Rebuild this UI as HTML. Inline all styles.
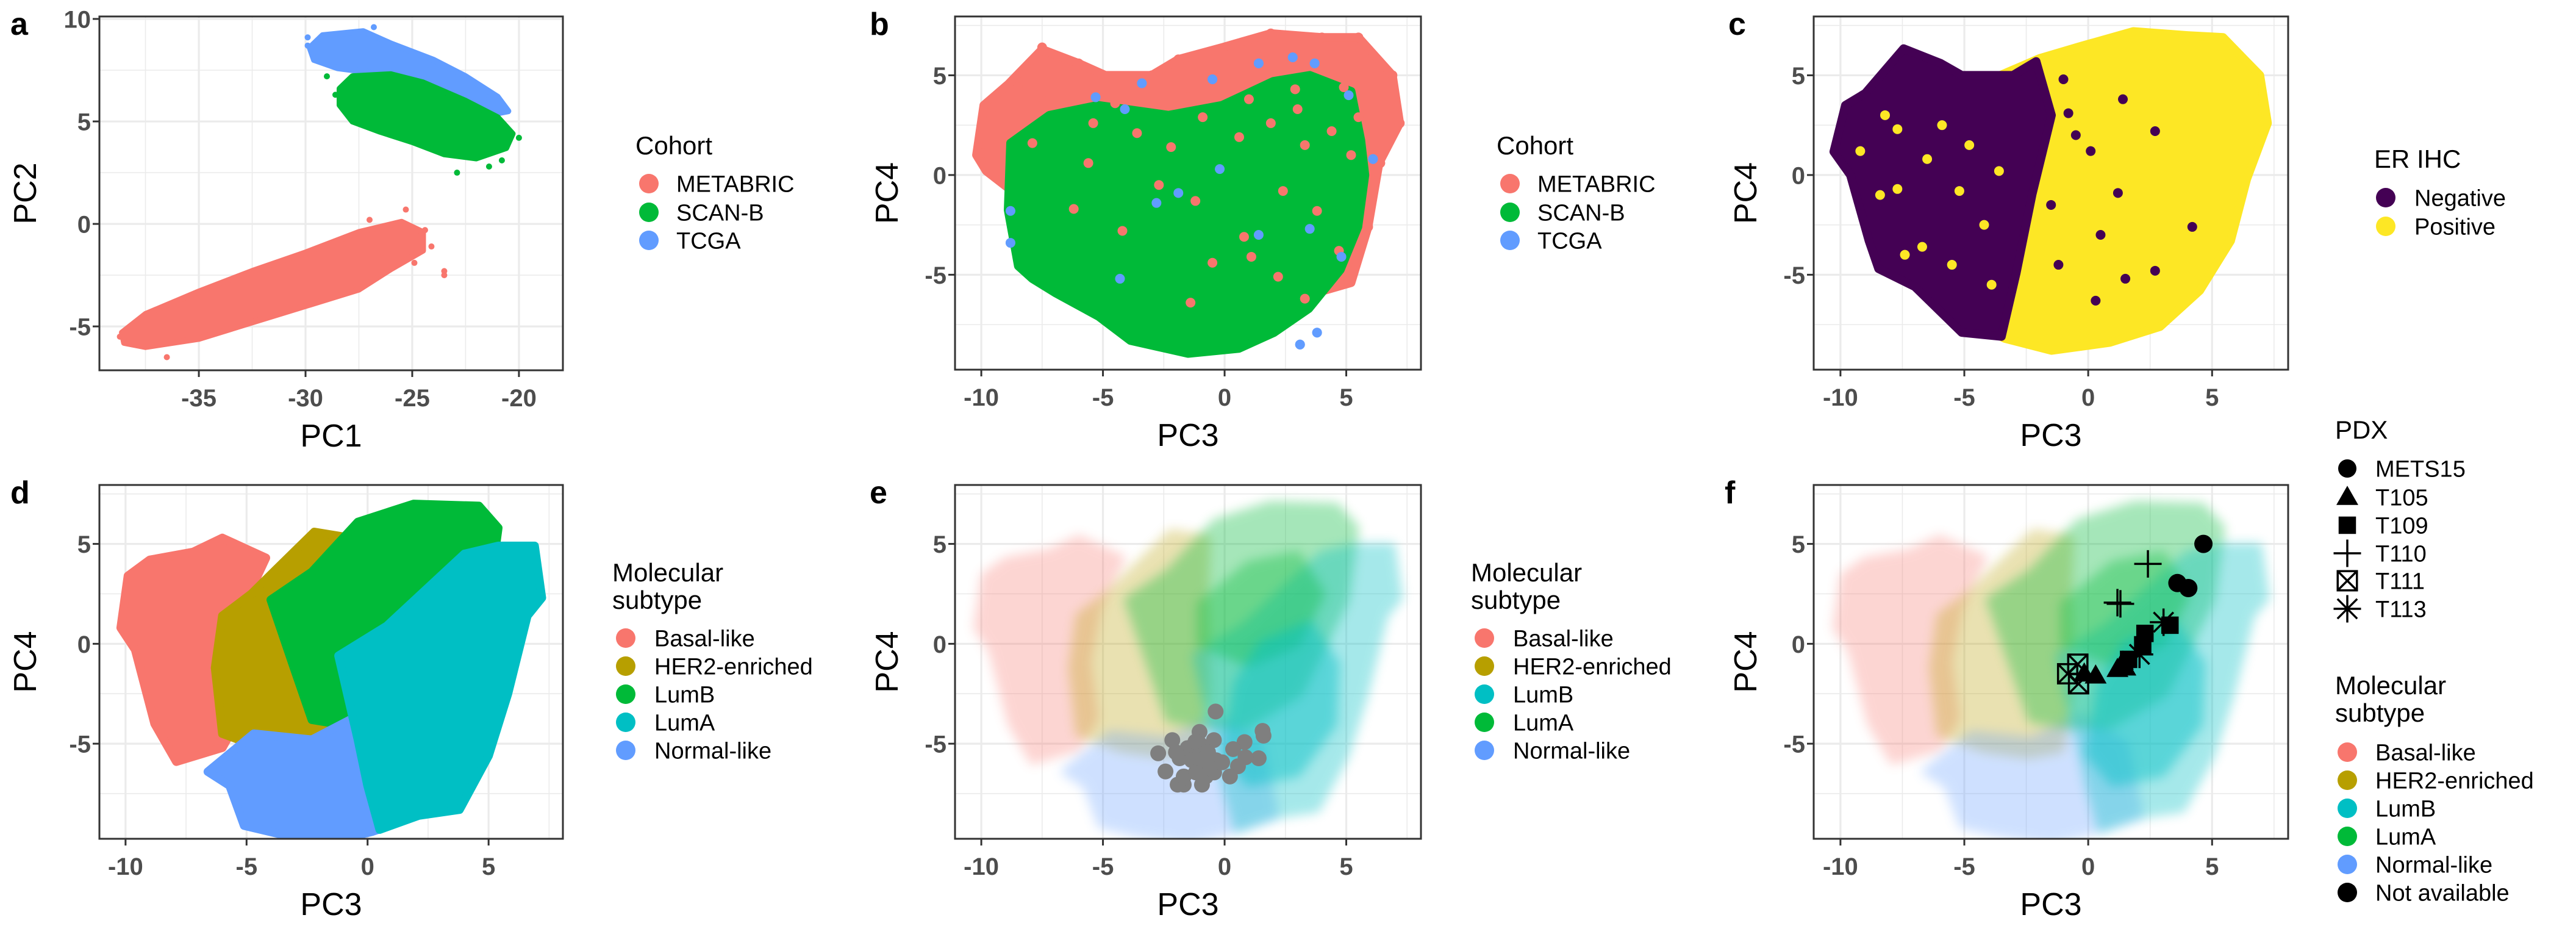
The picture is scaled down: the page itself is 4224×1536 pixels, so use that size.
<!DOCTYPE html>
<html><head><meta charset="utf-8"><style>
html,body{margin:0;padding:0;background:#fff;}
svg{display:block;font-family:"Liberation Sans",sans-serif;}
</style></head><body>
<svg id="fig" width="4224" height="1536" viewBox="0 0 4224 1536" xmlns="http://www.w3.org/2000/svg">
<defs><filter id="soft" x="-20%" y="-20%" width="140%" height="140%"><feGaussianBlur stdDeviation="9"/></filter></defs>
</svg>
<script>
// ---------- DATA (cloud outlines & points, data units) ----------
const metabricA=[[-38.6,-5.3],[-37.5,-4.4],[-35,-3.3],[-32.5,-2.3],[-30,-1.4],[-27.5,-0.4],[-25.5,0.1],[-24.5,-0.4],[-24.5,-1.3],[-26,-2.2],[-27.5,-3.2],[-30,-4.0],[-32.5,-4.8],[-35,-5.6],[-37.5,-6.0],[-38.5,-5.8]];
const metabricAOut=[[-38.7,-5.5],[-36.5,-6.5],[-25.3,0.7],[-24.4,-0.3],[-23.5,-2.3],[-23.5,-2.5],[-24.9,-1.9],[-24.1,-1.1],[-27,0.2],[-26.4,-1.4]];
const scanbA=[[-28.4,6.6],[-27.8,7.2],[-26,7.3],[-24.5,6.9],[-22.5,6.0],[-21,5.2],[-20.3,4.4],[-20.6,3.7],[-22,3.2],[-23.5,3.4],[-25,4.0],[-26.5,4.5],[-27.8,5.0],[-28.4,5.8]];
const scanbAOut=[[-29,7.2],[-20,4.2],[-20.8,3.1],[-22.9,2.5],[-28.6,6.3],[-21.4,2.8]];
const tcgaA=[[-29.8,8.6],[-29.2,9.2],[-27.3,9.4],[-26,8.8],[-24,8.0],[-22.5,7.2],[-21,6.2],[-20.5,5.5],[-21.5,5.3],[-23,5.8],[-25,6.8],[-27,7.4],[-28.5,7.6],[-29.6,8.0]];
const tcgaAOut=[[-29.9,9.1],[-29.9,8.7],[-21,5.9],[-21.4,6.1],[-26.8,9.6]];

const redB=[[-10.2,1.0],[-9.9,3.5],[-8.9,4.55],[-7.5,6.3],[-6.0,5.6],[-4.9,5.0],[-3.0,5.0],[-1.9,5.8],[-0.1,6.4],[1.9,7.1],[4.0,6.9],[5.5,6.9],[6.9,5.0],[7.2,2.6],[6.35,0.6],[5.9,-2.6],[5.2,-5.4],[3.5,-6],[0,-4],[-4,-3],[-8,-1.5],[-9.8,0.2]];
const greenB=[[-8.8,1.6],[-7.2,3.0],[-5.2,3.5],[-2.3,3.0],[-0.1,3.5],[2.0,4.7],[3.5,5.0],[5.2,4.2],[5.6,1.75],[5.77,0],[5.48,-2.6],[4.76,-4.75],[3.46,-6.7],[2.03,-7.9],[0.59,-8.7],[-1.5,-8.95],[-3.87,-8.3],[-5.17,-7.1],[-6.97,-5.9],[-7.9,-5.2],[-8.48,-4.56],[-8.9,-1.75]];
const redBDots=[[-7.5,6.4],[-6,5.6],[-4.8,4.9],[-3,5],[-1.9,5.8],[-0.2,6.3],[1.9,7.1],[4,6.9],[5.5,6.9],[6.9,5],[7.2,2.6],[6.4,0.6],[5.9,-2.6],[-9.9,1.1],[-9.5,3.4],[-8.5,4.4],[-7.4,3.7],[-5.4,2.6],[-3.6,2.1],[-2.2,1.4],[-0.9,2.9],[0.6,1.9],[1.9,2.6],[3.3,1.5],[4.4,2.2],[5.2,1.0],[-6.2,-1.7],[-4.2,-2.8],[-2.7,-0.5],[-1.2,-1.3],[0.8,-3.1],[2.4,-0.8],[3.8,-1.8],[4.7,-3.8],[3.3,-6.2],[1.1,-4.1],[-1.4,-6.4],[-0.5,-4.4],[2.2,-5.1],[-5.6,0.6],[-7.9,1.6],[-3.1,3.7],[0.2,4.6],[2.9,4.3],[4.9,4.4],[-1.5,3.9],[3.0,3.3],[1.0,3.8],[-4.5,3.6],[5.5,2.9]];
const blueBDots=[[-8.8,-1.8],[-8.8,-3.4],[-5.3,3.9],[-4.1,3.3],[-3.4,4.6],[-0.5,4.8],[1.4,5.6],[2.8,5.9],[3.7,5.6],[5.1,4.0],[6.1,0.8],[3.1,-8.5],[3.8,-7.9],[-4.3,-5.2],[-1.9,-0.9],[-0.2,0.3],[1.4,-3],[3.5,-2.7],[4.8,-4.1],[-2.8,-1.4],[-6.3,2.1],[-7.8,-1.0],[0.6,-6.9],[2.9,-3.9],[-1.1,-2.5],[2.1,1.2],[4.2,0.1],[-3.6,0.9]];

const yellowC=[[-4.3,4.6],[-1.96,5.85],[-0.38,6.43],[1.82,7.2],[4.0,7.0],[5.44,6.9],[6.93,5.0],[7.24,2.6],[6.4,-0.2],[5.75,-3.3],[4.5,-5.8],[2.9,-7.6],[0.87,-8.4],[-1.48,-8.8],[-3.36,-8.2],[-5.1,-7.1],[-6.2,-5.1],[-5.4,-1.0],[-4.6,2.9]];
const purpleC=[[-10.27,1.17],[-9.8,3.5],[-9.0,4.1],[-7.45,6.34],[-5.95,5.6],[-5.1,5.0],[-3.04,5.0],[-2.1,5.7],[-1.48,3.0],[-2.26,-0.97],[-2.9,-4.9],[-3.5,-8.1],[-5.1,-7.9],[-7.0,-5.6],[-8.46,-4.7],[-8.85,-3.3],[-9.6,0.0]];
const yellowCDots=[[-7.7,2.3],[-8.4,-1],[-7.7,-0.7],[-6.7,-3.6],[-7.4,-4.0],[-9.2,1.2],[-6.5,0.8],[-5.9,2.5],[-4.8,1.5],[-4.2,-2.5],[-3.9,-5.5],[-5.5,-4.5],[-8.2,3.0],[-3.6,0.2],[-5.2,-0.8]];
const purpleCDots=[[2.7,2.2],[2.7,-4.8],[0.3,-6.3],[-1.0,4.8],[-0.8,3.1],[1.2,-0.9],[-1.5,-1.5],[0.5,-3],[4.2,-2.6],[1.5,-5.2],[-0.5,2],[1.4,3.8],[-1.2,-4.5],[0.1,1.2]];

const basalReg=[[-10.2,0.8],[-9.9,3.4],[-9.0,4.2],[-7.2,4.6],[-6.0,5.3],[-5.1,4.8],[-4.2,4.3],[-5.2,1.7],[-5.6,-0.9],[-5.3,-3.7],[-6.0,-5.2],[-7.9,-5.9],[-8.8,-4.0],[-9.6,-0.3]];
const her2Reg=[[-6.0,1.4],[-4.8,2.5],[-3.8,3.7],[-2.2,5.6],[-0.7,5.3],[-0.8,1.9],[-0.7,-2.5],[-1.1,-5.3],[-2.4,-5.6],[-4.2,-5.3],[-6.0,-4.5],[-6.3,-1.2]];
const greenLumReg=[[-4.0,2.2],[-2.3,3.6],[-0.4,6.1],[1.9,7.0],[4.6,6.9],[5.4,5.8],[5.0,2.2],[3.1,-2.5],[0.9,-4.1],[-0.8,-4.1],[-2.3,-3.8],[-3.1,-1.0]];
const normalReg=[[-6.6,-6.4],[-4.7,-4.5],[-2.3,-4.8],[-0.4,-3.6],[1.5,-5.0],[2.1,-8.6],[0.2,-9.4],[-1.5,-9.9],[-3.7,-9.5],[-5.1,-9.1],[-5.7,-7.1]];
const cyanLumReg=[[-1.2,-0.6],[0.8,0.9],[4.0,4.5],[5.4,4.9],[6.9,4.9],[7.2,2.3],[6.6,1.4],[5.8,-2.5],[5.0,-5.6],[3.8,-8.3],[2.1,-8.6],[0.5,-9.3],[0.0,-7.1],[-0.4,-4.8]];
const greenCore=[[-1,2],[1,4],[3,4.5],[4,2.5],[3,0],[1,-1],[-1,0]];
const cyanCore=[[1.5,0],[3.5,1],[4.6,-1],[4.5,-4],[3,-6.5],[1,-7],[0,-5.5],[0.5,-2]];

const grayE=[[-0.37,-3.39],[-1.03,-4.41],[-2.15,-4.82],[-2.73,-5.48],[-0.44,-4.82],[1.56,-4.36],[1.6,-4.6],[0.82,-4.92],[1.4,-5.73],[0.86,-5.68],[0.35,-5.27],[0.55,-6.13],[0.22,-6.64],[-0.43,-6.44],[-0.93,-7.05],[-1.68,-7.05],[-1.93,-7.05],[-2.43,-6.39],[-1.68,-6.64],[-1.85,-5.73],[-1.52,-5.22],[-1.02,-5.02],[-1.02,-5.53],[-0.85,-6.03],[-0.68,-5.43],[-0.35,-5.83],[-1.35,-5.83],[-1.18,-6.44],[-0.1,-5.93],[-2.0,-5.43],[-0.77,-6.64],[-0.6,-6.23],[-1.2,-4.9],[-0.9,-5.8]];

const pdxX=[4.65,3.6,4.04, 0.3,-0.16,1.18,1.5,1.4, 3.3,2.29,2.2,1.63, 2.41,1.18,1.3, -0.83,-0.42,-0.39, 3.04,2.07];
const pdxY=[5.0,3.04,2.79, -1.6,-1.5,-1.27,-1.2,-0.9, 0.93,0.52,-0.05,-0.78, 4.0,2.06,2.0, -1.5,-1.02,-2.0, 1.08,-0.53];
const pdxShape=["circle","circle","circle","triangle","triangle","triangle","triangle","triangle","square","square","square","square","plus","plus","plus","boxx","boxx","boxx","star","star"];

const cohortLabels=["METABRIC","SCAN-B","TCGA"];
const cohortColors=["#F8766D","#00BA38","#619CFF"];
const erLabels=["Negative","Positive"];
const erColors=["#440154","#FDE725"];
const subtypeLabelsD=["Basal-like","HER2-enriched","LumB","LumA","Normal-like"];
const subtypeColorsD=["#F8766D","#B79F00","#00BA38","#00BFC4","#619CFF"];
const subtypeLabelsE=["Basal-like","HER2-enriched","LumB","LumA","Normal-like"];
const subtypeColorsE=["#F8766D","#B79F00","#00BFC4","#00BA38","#619CFF"];
const subtypeLabelsF=["Basal-like","HER2-enriched","LumB","LumA","Normal-like","Not available"];
const subtypeColorsF=["#F8766D","#B79F00","#00BFC4","#00BA38","#619CFF","#000000"];
const pdxLabels=["METS15","T105","T109","T110","T111","T113"];
const pdxLegendShapes=["circle","triangle","square","plus","boxx","star"];
const ticksPC1=[-35,-30,-25,-20];
const ticksPC2=[-5,0,5,10];
const ticksPC3=[-10,-5,0,5];
const ticksPC4=[-5,0,5];

// ---------- RENDER ----------
const NS="http://www.w3.org/2000/svg";
const svg=document.getElementById('fig');
function mk(tag,attrs,parent){const e=document.createElementNS(NS,tag);for(const k in attrs)e.setAttribute(k,attrs[k]);(parent||svg).appendChild(e);return e;}
function txt(s,attrs,parent){const e=mk('text',attrs,parent);e.textContent=s;return e;}

function makePanel(id,L,R,T,B,xd,yd,xt,yt,xminor,yminor,xlab,ylab,ylabX,letter,lx,ly){
  const g=mk('g',{});
  
  
  const sx=v=>L+(v-xd[0])/(xd[1]-xd[0])*(R-L);
  const sy=v=>B-(v-yd[0])/(yd[1]-yd[0])*(B-T);
  const cp=mk('clipPath',{id:'clip-'+id},g);mk('rect',{x:L,y:T,width:R-L,height:B-T},cp);
  const grid=mk('g',{},g);
  
  
  xminor.forEach(v=>mk('line',{x1:sx(v),x2:sx(v),y1:T,y2:B,stroke:'#EBEBEB','stroke-width':1.6},grid));
  yminor.forEach(v=>mk('line',{y1:sy(v),y2:sy(v),x1:L,x2:R,stroke:'#EBEBEB','stroke-width':1.6},grid));
  xt.forEach(v=>mk('line',{x1:sx(v),x2:sx(v),y1:T,y2:B,stroke:'#EBEBEB','stroke-width':3.2},grid));
  yt.forEach(v=>mk('line',{y1:sy(v),y2:sy(v),x1:L,x2:R,stroke:'#EBEBEB','stroke-width':3.2},grid));
  const plot=mk('g',{'clip-path':'url(#clip-'+id+')'},g);
  
  
  const border=mk('rect',{x:L,y:T,width:R-L,height:B-T,fill:'none',stroke:'#333333','stroke-width':3},g);
  
  
  xt.forEach(v=>{
    mk('line',{x1:sx(v),x2:sx(v),y1:B,y2:B+11,stroke:'#333333','stroke-width':3},g);
    const t=txt(String(v),{x:sx(v),y:B+59,'text-anchor':'middle','font-size':40,'font-weight':'bold',fill:'#4D4D4D'},g);
    
    
  });
  yt.forEach(v=>{
    mk('line',{x1:L-11,x2:L,y1:sy(v),y2:sy(v),stroke:'#333333','stroke-width':3},g);
    const t=txt(String(v),{x:L-14,y:sy(v)+14.5,'text-anchor':'end','font-size':40,'font-weight':'bold',fill:'#4D4D4D'},g);
    
    
  });
  const xa=txt(xlab,{x:(L+R)/2,y:B+125,'text-anchor':'middle','font-size':52,fill:'#000'},g);
  
  
  const cy=(T+B)/2;
  const ya=txt(ylab,{x:ylabX,y:cy,'text-anchor':'middle','dominant-baseline':'central','font-size':52,fill:'#000',transform:'rotate(-90 '+ylabX+' '+cy+')'},g);
  
  
  const le=txt(letter,{x:lx,y:ly,'font-size':52,'font-weight':'bold',fill:'#000'},g);
  
  
  return {sx,sy,plot};
}
function region(P,pts,color,name,op,sw,soft){
  const d=pts.map((p,i)=>(i?'L':'M')+P.sx(p[0]).toFixed(1)+' '+P.sy(p[1]).toFixed(1)).join(' ')+'Z';
  const wrap=mk('g',{opacity:op},P.plot);
  if(soft)wrap.setAttribute('filter','url(#soft)');
  const e=mk('path',{d:d,fill:color,stroke:color,'stroke-width':sw,'stroke-linejoin':'round'},wrap);
  
  
}
function dots(P,pts,color,r,name,op){
  pts.forEach(p=>{
    const c=mk('circle',{cx:P.sx(p[0]),cy:P.sy(p[1]),r:r,fill:color,'fill-opacity':op},P.plot);
    
    
  });
}
function marker(parent,shape,x,y,s){
  if(shape==='circle')return mk('circle',{cx:x,cy:y,r:s,fill:'#000'},parent);
  if(shape==='triangle')return mk('polygon',{points:`${x},${y-s*1.25} ${x-s*1.2},${y+s*0.85} ${x+s*1.2},${y+s*0.85}`,fill:'#000'},parent);
  if(shape==='square')return mk('rect',{x:x-s*0.95,y:y-s*0.95,width:s*1.9,height:s*1.9,fill:'#000'},parent);
  const g=mk('g',{stroke:'#000','stroke-width':3.5,fill:'none'},parent);
  const k=s*1.5;
  if(shape==='plus'){mk('line',{x1:x-k,x2:x+k,y1:y,y2:y},g);mk('line',{x1:x,x2:x,y1:y-k,y2:y+k},g);}
  if(shape==='boxx'){const q=s*1.05;mk('rect',{x:x-q,y:y-q,width:2*q,height:2*q},g);mk('line',{x1:x-q,y1:y-q,x2:x+q,y2:y+q},g);mk('line',{x1:x-q,y1:y+q,x2:x+q,y2:y-q},g);}
  if(shape==='star'){mk('line',{x1:x-k,x2:x+k,y1:y,y2:y},g);mk('line',{x1:x,x2:x,y1:y-k,y2:y+k},g);const d=k*0.72;mk('line',{x1:x-d,y1:y-d,x2:x+d,y2:y+d},g);mk('line',{x1:x-d,y1:y+d,x2:x+d,y2:y-d},g);}
  return g;
}
function legend(id,title2,x,titleY,keyX,labelX,keyYs,labels,colors,shapes){
  const g=mk('g',{});
  
  
  title2.forEach((t,i)=>{
    const e=txt(t,{x:x,y:titleY+i*45,'font-size':42,fill:'#000'},g);
    
    
  });
  labels.forEach((lab,i)=>{
    let k;
    if(shapes)k=marker(g,shapes[i],keyX,keyYs[i],15);
    else k=mk('circle',{cx:keyX,cy:keyYs[i],r:16,fill:colors[i]},g);
    
    
    const t=txt(lab,{x:labelX,y:keyYs[i]+13.5,'font-size':38,fill:'#000'},g);
    
    
  });
}

const XR=[-11.08,8.07], YR=[-9.76,7.95];
const minX=[-7.5,-2.5,2.5,7.5], minY=[-7.5,-2.5,2.5,7.5];

// Panel a
const A=makePanel('a',163,923,27,607,[-39.66,-17.94],[-7.14,10.12],ticksPC1,ticksPC2,[-37.5,-32.5,-27.5,-22.5],[-2.5,2.5,7.5],'PC1','PC2',42,'a',17,57);
region(A,tcgaA,cohortColors[2],'tcga-cloud',1,10);
dots(A,tcgaAOut,cohortColors[2],5,'tcga-point',1);
region(A,scanbA,cohortColors[1],'scanb-cloud',1,10);
dots(A,scanbAOut,cohortColors[1],5,'scanb-point',1);
region(A,metabricA,cohortColors[0],'metabric-cloud',1,10);
dots(A,metabricAOut,cohortColors[0],5,'metabric-point',1);
legend('a-cohort',['Cohort'],1042,253,1064,1109,[301,348,394],cohortLabels,cohortColors);

// Panel b
const Bp=makePanel('b',1566,2330,27,606,XR,YR,ticksPC3,ticksPC4,minX,minY,'PC3','PC4',1455,'b',1426,57);
region(Bp,redB,cohortColors[0],'metabric-cloud',1,14);
dots(Bp,blueBDots,cohortColors[2],8,'tcga-point',1);
region(Bp,greenB,cohortColors[1],'scanb-cloud',1,14);
dots(Bp,redBDots,cohortColors[0],8,'metabric-point',1);
dots(Bp,blueBDots.slice(0,20),cohortColors[2],8,'tcga-point',1);
legend('b-cohort',['Cohort'],2454,253,2476,2521,[301,348,394],cohortLabels,cohortColors);

// Panel c
const C=makePanel('c',2974,3752,27,606,XR,YR,ticksPC3,ticksPC4,minX,minY,'PC3','PC4',2863,'c',2834,57);
region(C,yellowC,erColors[1],'er-positive-cloud',1,14);
region(C,purpleC,erColors[0],'er-negative-cloud',1,14);
dots(C,yellowCDots,erColors[1],8,'er-positive-point',1);
dots(C,purpleCDots,erColors[0],8,'er-negative-point',1);
legend('c-er',['ER IHC'],3893,275,3912,3959,[324,371],erLabels,erColors);

// Panel d
const D=makePanel('d',163,923,795,1375,XR,YR,ticksPC3,ticksPC4,minX,minY,'PC3','PC4',42,'d',17,825);
region(D,basalReg,subtypeColorsD[0],'basal-cloud',1,14);
region(D,her2Reg,subtypeColorsD[1],'her2-cloud',1,14);
region(D,greenLumReg,subtypeColorsD[2],'lumb-cloud',1,14);
region(D,normalReg,subtypeColorsD[4],'normal-cloud',1,14);
region(D,cyanLumReg,subtypeColorsD[3],'luma-cloud',1,14);
legend('d-subtype',['Molecular','subtype'],1004,953,1026,1073,[1046,1092,1138,1184,1230],subtypeLabelsD,subtypeColorsD);

// faint background for e/f
function faint(P){
  region(P,basalReg,'#F8766D','basal-cloud',0.3,10,true);
  region(P,her2Reg,'#B79F00','her2-cloud',0.3,10,true);
  region(P,normalReg,'#619CFF','normal-cloud',0.3,10,true);
  region(P,greenLumReg,'#00BA38','luma-cloud',0.35,10,true);
  region(P,cyanLumReg,'#00BFC4','lumb-cloud',0.35,10,true);
  region(P,greenCore,'#00BA38','luma-core',0.35,10,true);
  region(P,cyanCore,'#00BFC4','lumb-core',0.45,10,true);
}
const E=makePanel('e',1566,2330,795,1375,XR,YR,ticksPC3,ticksPC4,minX,minY,'PC3','PC4',1455,'e',1426,825);
faint(E);
dots(E,grayE,'#7F7F7F',13,'pdx-sample-point',1);
legend('e-subtype',['Molecular','subtype'],2412,953,2434,2481,[1046,1092,1138,1184,1230],subtypeLabelsE,subtypeColorsE);

const F=makePanel('f',2974,3752,795,1375,XR,YR,ticksPC3,ticksPC4,minX,minY,'PC3','PC4',2863,'f',2828,825);
faint(F);
pdxX.forEach((v,i)=>{
  const m=marker(F.plot,pdxShape[i],F.sx(v),F.sy(pdxY[i]),15);
  
  
});
legend('f-pdx',['PDX'],3829,719,3849,3895,[768,815,861,907,952,998],pdxLabels,null,pdxLegendShapes);
legend('f-subtype',['Molecular','subtype'],3829,1138,3849,3895,[1233,1279,1325,1371,1417,1463],subtypeLabelsF,subtypeColorsF);
</script>
</body></html>
